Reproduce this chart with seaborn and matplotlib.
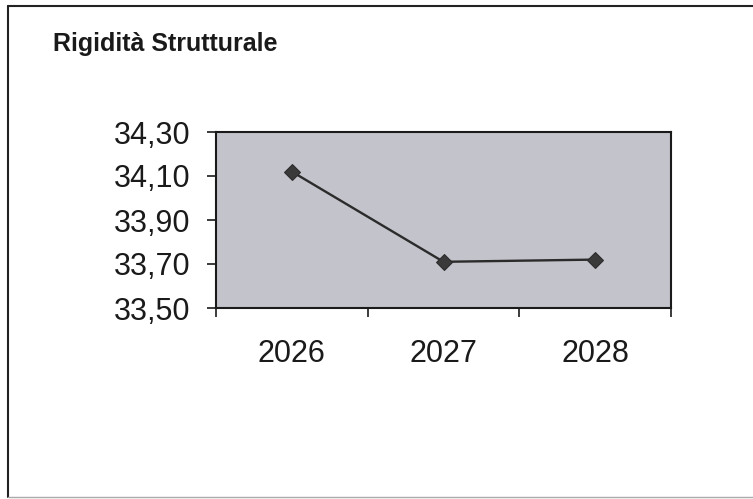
import matplotlib
matplotlib.use("Agg")
import matplotlib.pyplot as plt
from matplotlib.ticker import FuncFormatter, FixedLocator
from matplotlib.lines import Line2D
import seaborn as sns
import pandas as pd

# Data
years = ["2026", "2027", "2028"]
values = [34.12, 33.71, 33.72]
y_ticks = [33.50, 33.70, 33.90, 34.10, 34.30]
title = "Rigidità Strutturale"

sns.set_style("white")
plt.rcParams["font.family"] = ["Liberation Sans", "DejaVu Sans"]

W, H = 753, 499
fig = plt.figure(figsize=(W / 100, H / 100), dpi=100)
ax = fig.add_axes([216 / W, 1 - 308 / H, (671 - 216) / W, (308 - 132) / H])

df = pd.DataFrame({"year": years, "value": values})
sns.lineplot(data=df, x="year", y="value", ax=ax, sort=False,
             color="#2b2b2b", linewidth=1.7, marker="D", markersize=8.5,
             markeredgecolor="#2b2b2b", markerfacecolor="#3a3a3a")

ax.set_facecolor("#c3c3cb")
ax.set_xlim(-0.5, len(years) - 0.5)
ax.set_ylim(y_ticks[0], y_ticks[-1])
ax.yaxis.set_major_locator(FixedLocator(y_ticks))
ax.yaxis.set_major_formatter(FuncFormatter(lambda v, p: f"{v:.2f}".replace(".", ",")))

# category boundaries as major ticks, labels on minor ticks
ax.set_xticks([i - 0.5 for i in range(len(years) + 1)])
ax.set_xticklabels([""] * (len(years) + 1))
ax.set_xticks(range(len(years)), minor=True)
ax.set_xticklabels(years, minor=True)

ax.set_xlabel("")
ax.set_ylabel("")

for s in ax.spines.values():
    s.set_visible(True)
    s.set_color("#1a1a1a")
    s.set_linewidth(1.5)

ax.tick_params(axis="y", which="major", direction="out", length=6.5, width=1.2,
               color="#1a1a1a", labelsize=22, pad=12, left=True, labelcolor="#1a1a1a")
ax.tick_params(axis="x", which="major", direction="out", length=6.5, width=1.2,
               color="#1a1a1a", bottom=True)
ax.tick_params(axis="x", which="minor", length=0, labelsize=22, pad=22,
               labelcolor="#1a1a1a")

fig.text(53 / W, 1 - 44 / H, title, fontsize=18, fontweight="bold",
         ha="left", va="center", color="#1a1a1a")

# outer frame
fig.add_artist(Line2D([8 / W, 8 / W], [1 - 6 / H, 1 - 497 / H], transform=fig.transFigure,
                      color="#222222", linewidth=1.5))
fig.add_artist(Line2D([8 / W, 1.0], [1 - 6 / H, 1 - 6 / H], transform=fig.transFigure,
                      color="#222222", linewidth=1.5))
fig.add_artist(Line2D([8 / W, 1.0], [1 - 497 / H, 1 - 497 / H], transform=fig.transFigure,
                      color="#aaaaaa", linewidth=1.0))

fig.savefig("out.png", dpi=100, facecolor="white")
